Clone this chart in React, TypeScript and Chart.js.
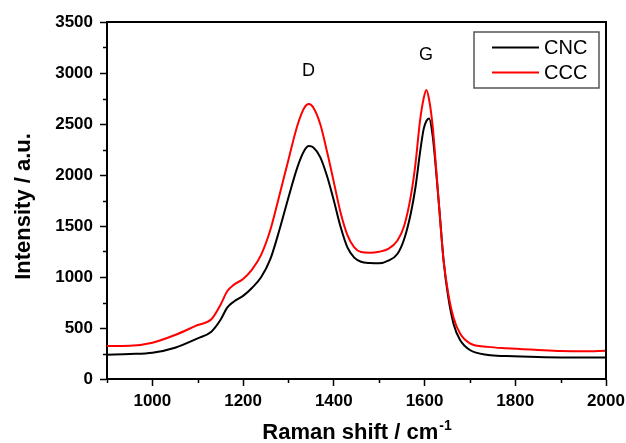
import React, { useEffect, useRef } from "react";
import { Chart, registerables } from "chart.js";

Chart.register(...registerables);

const ramanShift = [900, 950, 1000, 1050, 1100, 1130, 1150, 1165, 1180, 1200, 1220, 1240, 1260, 1280, 1300, 1320, 1335, 1345, 1355, 1370, 1385, 1400, 1415, 1430, 1445, 1460, 1480, 1500, 1520, 1540, 1555, 1570, 1580, 1590, 1598, 1604, 1610, 1618, 1626, 1634, 1642, 1652, 1664, 1678, 1700, 1740, 1780, 1850, 1900, 1950, 2000];
const cncIntensity = [238, 245, 258, 307, 399, 464, 578, 700, 760, 815, 895, 1000, 1175, 1460, 1780, 2080, 2240, 2284, 2270, 2175, 1990, 1750, 1490, 1290, 1190, 1150, 1137, 1134, 1160, 1225, 1370, 1630, 1880, 2220, 2450, 2530, 2555, 2380, 2010, 1590, 1160, 810, 540, 385, 284, 235, 225, 215, 212, 212, 212];
const cccIntensity = [323, 325, 356, 431, 529, 585, 725, 860, 925, 980, 1075, 1220, 1460, 1800, 2150, 2490, 2660, 2696, 2660, 2500, 2230, 1930, 1630, 1410, 1290, 1245, 1238, 1248, 1275, 1355, 1500, 1800, 2110, 2530, 2750, 2833, 2740, 2474, 2040, 1580, 1160, 845, 600, 448, 350, 315, 301, 285, 275, 272, 278];

const seriesNames = ["CNC", "CCC"];
const xMajorTicks = [1000, 1200, 1400, 1600, 1800, 2000];
const xMinorTicks = [900, 1100, 1300, 1500, 1700, 1900];
const yMajorTicks = [0, 500, 1000, 1500, 2000, 2500, 3000, 3500];
const yMinorTicks = [250, 750, 1250, 1750, 2250, 2750, 3250];
const peakLabels = [
  { text: "D", x: 1344, y: 2971 },
  { text: "G", x: 1603, y: 3127 },
];
const xTitle = "Raman shift / cm";
const xTitleSup = "-1";
const yTitle = "Intensity / a.u.";

const FONT = "'Liberation Sans', Arial, sans-serif";

const decorPlugin = {
  id: "decor",
  afterDraw(chart: any) {
    const ctx = chart.ctx;
    const ca = chart.chartArea;
    const xs = chart.scales.x;
    const ys = chart.scales.y;
    ctx.save();
    // frame top/right
    ctx.strokeStyle = "#000";
    ctx.lineWidth = 2;
    ctx.beginPath();
    ctx.moveTo(ca.left - 1, ca.top);
    ctx.lineTo(ca.right, ca.top);
    ctx.lineTo(ca.right, ca.bottom + 1);
    ctx.stroke();
    // minor ticks
    ctx.lineWidth = 1.5;
    ctx.beginPath();
    for (const v of xMinorTicks) {
      const px = Math.round(xs.getPixelForValue(v)) + 0.5;
      ctx.moveTo(px, ca.bottom);
      ctx.lineTo(px, ca.bottom + 4);
    }
    for (const v of yMinorTicks) {
      const py = Math.round(ys.getPixelForValue(v)) + 0.5;
      ctx.moveTo(ca.left, py);
      ctx.lineTo(ca.left - 4, py);
    }
    ctx.stroke();
    // peak labels
    ctx.fillStyle = "#000";
    ctx.font = `18px ${FONT}`;
    ctx.textAlign = "center";
    ctx.textBaseline = "alphabetic";
    for (const p of peakLabels) {
      ctx.fillText(p.text, xs.getPixelForValue(p.x), ys.getPixelForValue(p.y));
    }
    // x title with superscript
    ctx.font = `bold 22px ${FONT}`;
    const w1 = ctx.measureText(xTitle).width;
    ctx.font = `bold 14px ${FONT}`;
    const w2 = ctx.measureText(xTitleSup).width;
    const cx = (ca.left + ca.right) / 2;
    const startX = cx - (w1 + w2) / 2;
    ctx.textAlign = "left";
    ctx.font = `bold 22px ${FONT}`;
    ctx.fillText(xTitle, startX, 439);
    ctx.font = `bold 14px ${FONT}`;
    ctx.fillText(xTitleSup, startX + w1 + 1, 430);
    // y title
    ctx.save();
    ctx.translate(30, (ca.top + ca.bottom) / 2 + 6);
    ctx.rotate(-Math.PI / 2);
    ctx.font = `bold 22px ${FONT}`;
    ctx.textAlign = "center";
    ctx.fillText(yTitle, 0, 0);
    ctx.restore();
    // legend
    const lx = 474, ly = 32, lw = 125, lh = 56;
    ctx.strokeStyle = "#555";
    ctx.lineWidth = 1.5;
    ctx.strokeRect(lx, ly, lw, lh);
    const colors = ["#000000", "#ff0000"];
    const rowsY = [47.5, 72.5];
    ctx.font = `20px ${FONT}`;
    ctx.textAlign = "left";
    ctx.textBaseline = "middle";
    for (let i = 0; i < seriesNames.length; i++) {
      ctx.strokeStyle = colors[i];
      ctx.lineWidth = 2;
      ctx.beginPath();
      ctx.moveTo(492, rowsY[i]);
      ctx.lineTo(539, rowsY[i]);
      ctx.stroke();
      ctx.fillStyle = "#000";
      ctx.fillText(seriesNames[i], 544, rowsY[i] + 1);
    }
    ctx.restore();
  },
};

export default function App() {
  const ref = useRef<HTMLCanvasElement | null>(null);
  useEffect(() => {
    document.body.style.margin = "0";
    const canvas = ref.current;
    if (!canvas) return;
    const chart = new Chart(canvas, {
      type: "line",
      data: {
        datasets: [
          {
            label: seriesNames[0],
            data: ramanShift.map((x, i) => ({ x, y: cncIntensity[i] })),
            borderColor: "#000000",
            borderWidth: 2,
            pointRadius: 0,
            cubicInterpolationMode: "monotone",
            order: 1,
          },
          {
            label: seriesNames[1],
            data: ramanShift.map((x, i) => ({ x, y: cccIntensity[i] })),
            borderColor: "#ff0000",
            borderWidth: 2,
            pointRadius: 0,
            cubicInterpolationMode: "monotone",
            order: 0,
          },
        ],
      },
      options: {
        animation: false,
        responsive: false,
        maintainAspectRatio: false,
        layout: { padding: { top: 22, right: 20, left: 0, bottom: 0 } },
        plugins: { legend: { display: false }, tooltip: { enabled: false } },
        scales: {
          x: {
            type: "linear",
            min: 900,
            max: 2000,
            afterBuildTicks: (s: any) => {
              s.ticks = xMajorTicks.map((v) => ({ value: v }));
            },
            afterFit: (s: any) => {
              s.height = 64;
              s.paddingLeft = 0;
              s.paddingRight = 0;
            },
            grid: { drawOnChartArea: false, tickLength: 7, tickWidth: 1.5, tickColor: "#000" },
            border: { color: "#000", width: 2 },
            ticks: {
              color: "#000",
              padding: 5,
              font: { family: FONT, size: 17, weight: "bold" },
              maxRotation: 0,
              callback: (v: any) => String(v),
            },
          },
          y: {
            type: "linear",
            min: 0,
            max: 3500,
            afterBuildTicks: (s: any) => {
              s.ticks = yMajorTicks.map((v) => ({ value: v }));
            },
            afterFit: (s: any) => {
              s.width = 107;
              s.paddingTop = 0;
              s.paddingBottom = 0;
            },
            grid: { drawOnChartArea: false, tickLength: 7, tickWidth: 1.5, tickColor: "#000" },
            border: { color: "#000", width: 2 },
            ticks: {
              color: "#000",
              padding: 7,
              font: { family: FONT, size: 17, weight: "bold" },
              callback: (v: any) => String(v),
            },
          },
        },
      },
      plugins: [decorPlugin],
    } as any);
    return () => chart.destroy();
  }, []);
  return <canvas ref={ref} width={626} height={443} style={{ display: "block" }} />;
}
